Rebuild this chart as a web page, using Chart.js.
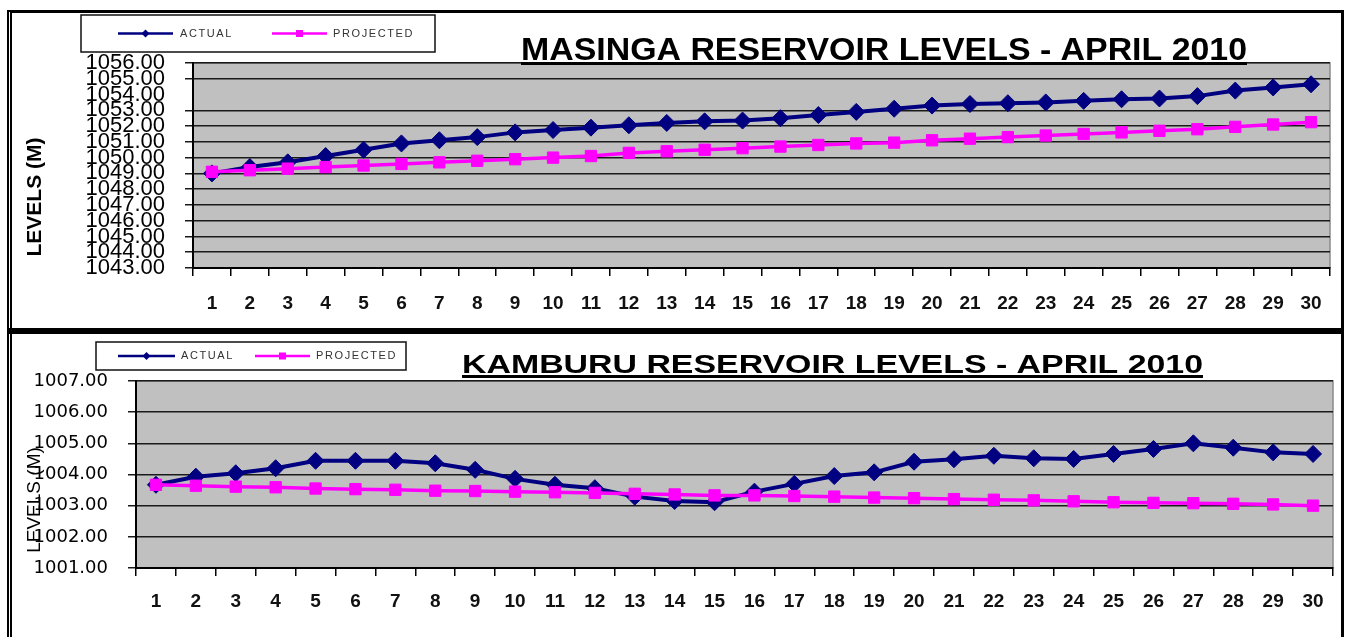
<!DOCTYPE html>
<html>
<head>
<meta charset="utf-8">
<script src="https://cdn.jsdelivr.net/npm/chart.js@4.4.1/dist/chart.umd.min.js"></script>
<style>
  html, body { margin: 0; padding: 0; background: #fff; }
  #page { position: relative; width: 1349px; height: 637px; overflow: hidden; }
  #frame { position: absolute; left: 7px; top: 10px; width: 1337px; height: 640px; box-sizing: border-box;
           border-left: 5px double #000; border-right: 3px solid #000; border-top: 3px solid #000; }
  #split { position: absolute; left: 7px; top: 328px; width: 1337px; height: 6px; background: #000; }
  canvas { position: absolute; left: 0; }
</style>
</head>
<body>
<div id="page">
  <div id="frame"></div>
  <div id="split"></div>
  <canvas id="masinga" width="1349" height="328" style="top:0"></canvas>
  <canvas id="kamburu" width="1349" height="307" style="top:330px"></canvas>
</div>
<script>
const days = Array.from({ length: 30 }, (_, i) => String(i + 1));
const seriesNames = ['ACTUAL', 'PROJECTED'];

const masingaActual = [1049.0, 1049.4, 1049.7, 1050.1, 1050.5, 1050.9, 1051.1, 1051.3, 1051.6, 1051.75,
  1051.9, 1052.05, 1052.2, 1052.3, 1052.35, 1052.5, 1052.7, 1052.9, 1053.1, 1053.3,
  1053.4, 1053.45, 1053.5, 1053.6, 1053.7, 1053.75, 1053.9, 1054.25, 1054.45, 1054.65];
const masingaProjected = [1049.1, 1049.2, 1049.3, 1049.4, 1049.5, 1049.6, 1049.7, 1049.8, 1049.9, 1050.0,
  1050.1, 1050.3, 1050.4, 1050.5, 1050.6, 1050.7, 1050.8, 1050.9, 1050.95, 1051.1,
  1051.2, 1051.3, 1051.4, 1051.5, 1051.6, 1051.7, 1051.8, 1051.95, 1052.1, 1052.25];
const masingaRange = [1043, 1056];

const kamburuActual = [1003.67, 1003.93, 1004.04, 1004.2, 1004.44, 1004.44, 1004.44, 1004.36, 1004.15, 1003.86,
  1003.67, 1003.56, 1003.29, 1003.15, 1003.11, 1003.45, 1003.7, 1003.95, 1004.07, 1004.41,
  1004.49, 1004.6, 1004.52, 1004.5, 1004.66, 1004.82, 1005.0, 1004.86, 1004.71, 1004.66];
const kamburuProjected = [1003.67, 1003.64, 1003.61, 1003.59, 1003.55, 1003.53, 1003.51, 1003.48, 1003.47, 1003.45,
  1003.43, 1003.41, 1003.38, 1003.36, 1003.33, 1003.33, 1003.31, 1003.29, 1003.26, 1003.24,
  1003.21, 1003.19, 1003.17, 1003.14, 1003.11, 1003.09, 1003.08, 1003.06, 1003.04, 1003.0];
const kamburuRange = [1001, 1007];

const FONT = '"Liberation Sans", Arial, sans-serif';

// plot background, boxed legend, underlined title, y title
const decor = {
  id: 'decor',
  beforeDraw(chart, args, o) {
    const a = chart.chartArea, ctx = chart.ctx;
    ctx.save();
    ctx.fillStyle = '#c0c0c0';
    ctx.fillRect(a.left, a.top, a.right - a.left, a.bottom - a.top);
    ctx.strokeStyle = '#8a8a8a';
    ctx.lineWidth = 1.5;
    ctx.strokeRect(a.left, a.top, a.right - a.left, a.bottom - a.top);
    ctx.restore();
  },
  afterDraw(chart, args, o) {
    const ctx = chart.ctx;
    ctx.save();

    // title, stretched sideways like the original scan
    const t = o.title;
    ctx.fillStyle = '#000';
    ctx.font = 'bold ' + t.size + 'px ' + FONT;
    const raw = ctx.measureText(t.text).width;
    ctx.save();
    ctx.translate(t.x, t.y);
    ctx.scale(t.width / raw, 1);
    ctx.textAlign = 'left';
    ctx.textBaseline = 'alphabetic';
    ctx.fillText(t.text, 0, 0);
    ctx.restore();
    ctx.fillRect(t.x, t.y + 2, t.width, 3);

    // y title
    const yt = o.yTitle;
    ctx.save();
    ctx.translate(yt.x, yt.y);
    ctx.rotate(-Math.PI / 2);
    ctx.font = yt.weight + ' ' + yt.size + 'px ' + FONT;
    ctx.textAlign = 'center';
    ctx.textBaseline = 'middle';
    ctx.fillText(yt.text, 0, 0);
    ctx.restore();

    // legend
    const L = o.legend;
    ctx.fillStyle = '#fff';
    ctx.fillRect(L.x, L.y, L.w, L.h);
    ctx.strokeStyle = '#111';
    ctx.lineWidth = 1.5;
    ctx.strokeRect(L.x, L.y, L.w, L.h);
    const cy = L.y + L.h / 2;
    chart.data.datasets.forEach((ds, i) => {
      const it = L.items[i];
      ctx.strokeStyle = ds.borderColor;
      ctx.fillStyle = ds.borderColor;
      ctx.lineWidth = 2.5;
      ctx.beginPath();
      ctx.moveTo(it[0], cy);
      ctx.lineTo(it[1], cy);
      ctx.stroke();
      const mx = (it[0] + it[1]) / 2;
      ctx.beginPath();
      if (ds.pointStyle === 'rectRot') {
        ctx.moveTo(mx, cy - 4); ctx.lineTo(mx + 4, cy); ctx.lineTo(mx, cy + 4); ctx.lineTo(mx - 4, cy);
        ctx.closePath();
      } else {
        ctx.rect(mx - 3.5, cy - 3.5, 7, 7);
      }
      ctx.fill();
      ctx.fillStyle = '#333';
      ctx.font = '11px ' + FONT;
      ctx.letterSpacing = '1.6px';
      ctx.textAlign = 'left';
      ctx.textBaseline = 'middle';
      ctx.fillText(ds.label, it[2], cy);
      ctx.letterSpacing = '0px';
    });
    ctx.restore();
  }
};

function makeChart(id, actual, projected, range, cfg) {
  return new Chart(document.getElementById(id), {
    type: 'line',
    data: {
      labels: days,
      datasets: [{
        label: seriesNames[0],
        data: actual,
        borderColor: '#000080',
        backgroundColor: '#000080',
        borderWidth: 4,
        pointStyle: 'rectRot',
        pointRadius: 8.5,
        pointBorderWidth: 1,
        tension: 0,
        order: 1
      },
      {
        label: seriesNames[1],
        data: projected,
        borderColor: '#ff00ff',
        backgroundColor: '#ff00ff',
        borderWidth: 3.5,
        pointStyle: 'rect',
        pointRadius: 8,
        pointBorderWidth: 1,
        tension: 0,
        order: 0
      }]
    },
    options: {
      responsive: false,
      animation: false,
      devicePixelRatio: 1,
      layout: { padding: cfg.padding },
      plugins: {
        legend: { display: false },
        title: { display: false },
        tooltip: { enabled: false },
        decor: cfg.decor
      },
      scales: {
        x: {
          offset: true,
          afterFit: s => { s.height = cfg.xHeight; },
          grid: { drawOnChartArea: false, drawTicks: true, tickLength: 8, color: '#000', lineWidth: 1.5, offset: true },
          border: { display: true, color: '#000', width: 2 },
          ticks: {
            color: '#111',
            padding: cfg.xPad,
            maxRotation: 0,
            autoSkip: false,
            font: { family: FONT, size: 19, weight: 'bold' }
          }
        },
        y: {
          min: range[0],
          max: range[1],
          afterFit: s => { s.width = cfg.yWidth; },
          grid: {
            color: cfg.gridColor,
            lineWidth: 1.5,
            tickLength: 8
          },
          border: { display: true, color: '#000', width: 2 },
          ticks: {
            stepSize: 1,
            maxTicksLimit: 100,
            autoSkip: false,
            padding: 20,
            color: '#000',
            font: cfg.yFont,
            callback: v => v.toFixed(2)
          }
        }
      }
    },
    plugins: [decor]
  });
}

makeChart('masinga', masingaActual, masingaProjected, masingaRange, {
  padding: { top: 63, right: 19, bottom: 0, left: 0 },
  xHeight: 60, yWidth: 193, xPad: 16,
  gridColor: c => (c.tick && c.tick.value === 1054) ? 'rgba(0,0,0,0)' : '#1a1a1a',
  yFont: { family: FONT, size: 22 },
  decor: {
    title: { text: 'MASINGA RESERVOIR LEVELS - APRIL 2010', x: 521, y: 60, width: 726, size: 31 },
    yTitle: { text: 'LEVELS (M)', x: 35, y: 197, size: 21, weight: 'bold' },
    legend: { x: 81, y: 15, w: 354, h: 37, items: [[118, 173, 180], [272, 327, 333]] }
  }
});

makeChart('kamburu', kamburuActual, kamburuProjected, kamburuRange, {
  padding: { top: 51, right: 16, bottom: 0, left: 0 },
  xHeight: 69, yWidth: 136, xPad: 14,
  gridColor: '#1a1a1a',
  yFont: { family: '"DejaVu Sans", sans-serif', size: 18 },
  decor: {
    title: { text: 'KAMBURU RESERVOIR LEVELS - APRIL 2010', x: 462, y: 43, width: 741, size: 26 },
    yTitle: { text: 'LEVELS (M)', x: 35, y: 170, size: 19, weight: 'normal' },
    legend: { x: 96, y: 12, w: 310, h: 28, items: [[118, 175, 181], [255, 310, 316]] }
  }
});
</script>
</body>
</html>
